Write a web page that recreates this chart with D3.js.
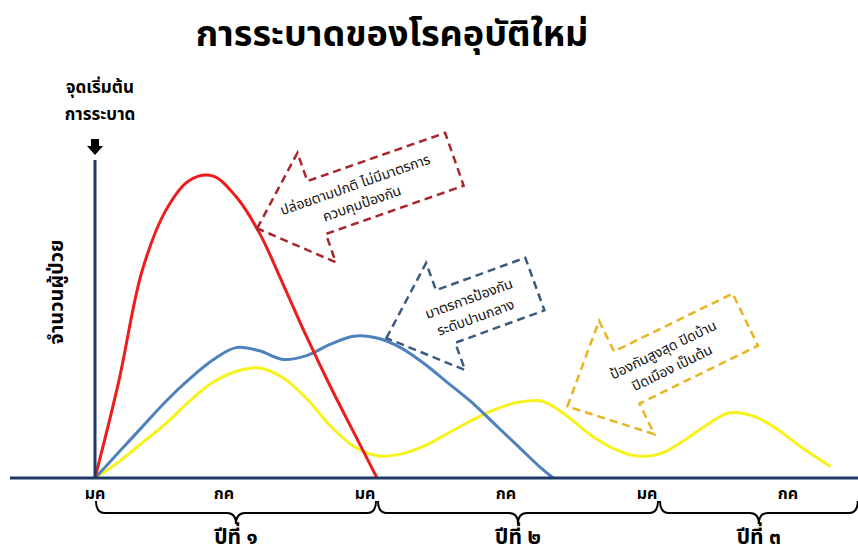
<html>
<head>
<meta charset="utf-8">
<script src="https://cdnjs.cloudflare.com/ajax/libs/d3/7.8.5/d3.min.js"></script>
</head>
<body style="margin: 0; background: #fff;">
<script>

// months since first January (0 = มค ปีที่ ๑)
var redMonths = [0, 1, 2, 3, 4, 5, 6, 7, 8, 9, 10, 11, 12]
var redCases = [0, 30, 65, 84, 93.5, 95, 88.5, 77, 61, 44.5, 29, 14.5, 0]

var blueMonths = [0, 1, 2, 3, 4, 5, 6, 7, 8, 9, 10, 11, 12, 13, 14, 15, 16, 17, 18, 19, 19.5]
var blueCases = [0, 8, 16, 24, 31, 37, 41, 40, 37.3, 38.5, 42, 44.6, 44, 41, 36, 30, 24, 17, 10, 3, 0]

var yellowMonths = [0, 1, 2, 3, 4, 5, 6, 7, 8, 9, 10, 11, 12, 13, 14, 15, 16, 17, 18, 19, 20, 21, 22, 23, 24, 25, 26, 27, 28, 29, 30, 31, 31.3]
var yellowCases = [0, 5, 11, 17, 24, 30, 33.5, 34.6, 31.5, 25, 16.5, 10, 7, 7.5, 10, 14, 18, 21.5, 23.8, 24.2, 20, 14, 9.5, 7, 7.5, 11.5, 16.5, 20.5, 19.5, 15.5, 10, 5, 3.5]

var tickMonths = [0, 6, 12, 18, 24, 30]
var tickLabels = ["มค", "กค", "มค", "กค", "มค", "กค"]

var yearStart = [0, 12, 24]
var yearEnd = [12, 24, 32.5]
var yearLabels = ["ปีที่ ๑", "ปีที่ ๒", "ปีที่ ๓"]

var title = "การระบาดของโรคอุบัติใหม่"
var yLabel = "จำนวนผู้ป่วย"
var startLabel = ["จุดเริ่มต้น", "การระบาด"]

// callouts: tip sits on a point (month, cases)
var noteText = [
  ["ปล่อยตามปกติ ไม่มีมาตรการ", "ควบคุมป้องกัน"],
  ["มาตรการป้องกัน", "ระดับปานกลาง"],
  ["ป้องกันสูงสุด ปิดบ้าน", "ปิดเมือง เป็นต้น"]
]
var noteMonth = [6.9, 12.4, 20.1]
var noteCases = [78.5, 44, 22.5]

var width = 858, height = 554
var font = "Tahoma, 'Noto Sans Thai', 'Leelawadee UI', sans-serif"

var svg = d3.select("body").append("svg")
    .attr("width", width)
    .attr("height", height)
    .style("font-family", font)

var x = d3.scaleLinear().domain([0, 12]).range([95, 377])
var y = d3.scaleLinear().domain([0, 100]).range([478, 160])

svg.append("text")
    .attr("x", 392).attr("y", 46)
    .attr("text-anchor", "middle")
    .attr("font-size", 36).attr("font-weight", "bold")
    .text(title)

svg.selectAll(".start").data(startLabel).enter().append("text")
    .attr("x", 100).attr("y", (d, i) => 93 + i * 27)
    .attr("text-anchor", "middle")
    .attr("font-size", 17).attr("font-weight", "bold")
    .text(d => d)

// little black arrow above the axis
svg.append("path")
    .attr("d", "M91,139 L99,139 L99,146 L103,146 L95,155 L87,146 L91,146 Z")
    .attr("fill", "#000")

svg.append("text")
    .attr("transform", "translate(57,292) rotate(-90)")
    .attr("text-anchor", "middle")
    .attr("dominant-baseline", "middle")
    .attr("font-size", 20).attr("font-weight", "bold")
    .text(yLabel)

var line = d3.line()
    .x(d => x(d[0]))
    .y(d => y(d[1]))
    .curve(d3.curveCatmullRom.alpha(0.5))

var series = [
  {m: yellowMonths, v: yellowCases, color: "#f8f21c"},
  {m: blueMonths, v: blueCases, color: "#4f81bd"},
  {m: redMonths, v: redCases, color: "#ee1c1c"}
]

svg.selectAll(".series").data(series).enter().append("path")
    .attr("d", s => line(d3.zip(s.m, s.v)))
    .attr("fill", "none")
    .attr("stroke", s => s.color)
    .attr("stroke-width", 3)

// axes
svg.append("line")
    .attr("x1", x(0)).attr("x2", x(0))
    .attr("y1", y(100)).attr("y2", y(0))
    .attr("stroke", "#1f3864").attr("stroke-width", 3)
svg.append("line")
    .attr("x1", 10).attr("x2", width)
    .attr("y1", y(0)).attr("y2", y(0))
    .attr("stroke", "#1f3864").attr("stroke-width", 3)

svg.selectAll(".tick").data(tickMonths).enter().append("text")
    .attr("x", (d, i) => x(d) - (i ? 12 : 0))
    .attr("y", 499)
    .attr("text-anchor", "middle")
    .attr("font-size", 16).attr("font-weight", "bold")
    .text((d, i) => tickLabels[i])

// braces under each year
function brace(x0, x1) {
  var y0 = 501, ym = 513, yt = 524, r = 9
  var xm = (x0 + x1) / 2
  return `M${x0},${y0} Q${x0},${ym} ${x0 + r},${ym} L${xm - r},${ym} Q${xm},${ym} ${xm},${yt}` +
    ` Q${xm},${ym} ${xm + r},${ym} L${x1 - r},${ym} Q${x1},${ym} ${x1},${y0}`
}

svg.selectAll(".brace").data(yearLabels).enter().append("path")
    .attr("d", (d, i) => brace(x(yearStart[i]) + 1, x(yearEnd[i]) - 1))
    .attr("fill", "none")
    .attr("stroke", "#000")
    .attr("stroke-width", 2)

svg.selectAll(".year").data(yearLabels).enter().append("text")
    .attr("x", (d, i) => (x(yearStart[i]) + x(yearEnd[i])) / 2)
    .attr("y", 544)
    .attr("text-anchor", "middle")
    .attr("font-size", 21).attr("font-weight", "bold")
    .text(d => d)

// dashed block arrows
var arrows = [
  {angle: -19.3, len: 209, head: 63, hw: 58, sw: 28, textAt: 107, color: "#a8262c"},
  {angle: -20, len: 158, head: 63, hw: 57, sw: 28, textAt: 91, color: "#3b5a80"},
  {angle: -26, len: 198, head: 66, hw: 63, sw: 29, textAt: 111, color: "#e8b422"}
]

arrows.forEach((a, i) => {
  var g = svg.append("g")
      .attr("transform", `translate(${x(noteMonth[i])},${y(noteCases[i])}) rotate(${a.angle})`)
  var pts = [[0, 0], [a.head, -a.hw], [a.head, -a.sw], [a.len, -a.sw],
             [a.len, a.sw], [a.head, a.sw], [a.head, a.hw]]
  g.append("path")
      .attr("d", "M" + pts.join("L") + "Z")
      .attr("fill", "none")
      .attr("stroke", a.color)
      .attr("stroke-width", 2.5)
      .attr("stroke-dasharray", "8,5")
  g.selectAll("text").data(noteText[i]).enter().append("text")
      .attr("x", a.textAt)
      .attr("y", (d, j) => j ? 16 : -4)
      .attr("text-anchor", "middle")
      .attr("font-size", 14)
      .attr("fill", "#111")
      .text(d => d)
})

</script>
</body>
</html>
